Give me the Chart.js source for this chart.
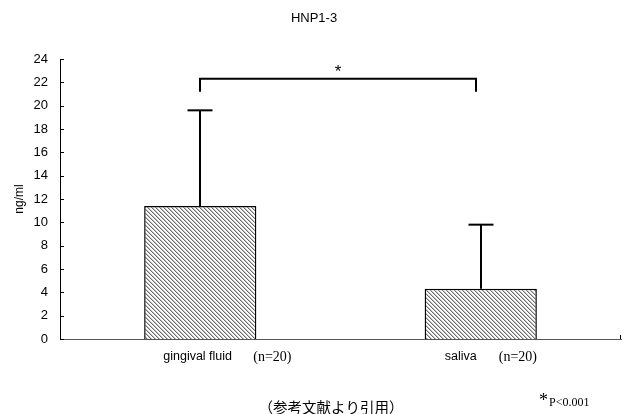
<!DOCTYPE html>
<html><head><meta charset="utf-8">
<script src="https://cdn.jsdelivr.net/npm/chart.js@4/dist/chart.umd.min.js"></script>
<style>html,body{margin:0;padding:0;background:#fff}#wrap{width:629px;height:414px}</style>
</head><body><div id="wrap"><canvas id="c" width="629" height="414"></canvas></div>
<script>
const categories = ['gingival fluid', 'saliva'];
const sampleLabels = ['(n=20)', '(n=20)'];
const means = [11.4, 4.3];
const errorTops = [19.6, 9.8];
const yTicks = [0, 2, 4, 6, 8, 10, 12, 14, 16, 18, 20, 22, 24];
const bracketLevel = 22.3;
const bracketFoot = 21.2;
const titleText = 'HNP1-3';
const yTitle = 'ng/ml';
const sourceNote = '（参考文献より引用）';
const pNote = 'P<0.001';

function hatch() {
  const p = document.createElement('canvas');
  p.width = 4; p.height = 4;
  const g = p.getContext('2d');
  g.fillStyle = '#ffffff'; g.fillRect(0, 0, 4, 4);
  g.fillStyle = '#6a6a6a';
  for (let i = 0; i < 4; i++) { g.fillRect(i, i, 1, 1); }
  g.fillStyle = '#c4c4c4';
  for (let i = 0; i < 4; i++) { g.fillRect((i + 1) % 4, i, 1, 1); }
  return document.getElementById('c').getContext('2d').createPattern(p, 'repeat');
}

const extras = {
  id: 'extras',
  afterDatasetsDraw(chart) {
    const ctx = chart.ctx, x = chart.scales.x, y = chart.scales.y, a = chart.chartArea;
    ctx.save();
    ctx.strokeStyle = '#000'; ctx.lineWidth = 1;
    yTicks.forEach(v => {
      const py = Math.round(y.getPixelForValue(v)) + 0.5;
      ctx.beginPath(); ctx.moveTo(a.left, py); ctx.lineTo(a.left + 4, py); ctx.stroke();
    });
    ctx.beginPath(); ctx.moveTo(a.right - 0.5, a.bottom); ctx.lineTo(a.right - 0.5, a.bottom - 4); ctx.stroke();
    ctx.lineWidth = 2;
    means.forEach((m, i) => {
      const px = Math.round(x.getPixelForValue(i));
      const top = y.getPixelForValue(errorTops[i]);
      const base = y.getPixelForValue(m);
      ctx.beginPath(); ctx.moveTo(px, base); ctx.lineTo(px, top); ctx.stroke();
      ctx.beginPath(); ctx.moveTo(px - 12.5, top); ctx.lineTo(px + 12.5, top); ctx.stroke();
    });
    const x1 = Math.round(x.getPixelForValue(0)), x2 = Math.round(x.getPixelForValue(1)) - 5;
    const by = y.getPixelForValue(bracketLevel), fy = y.getPixelForValue(bracketFoot);
    ctx.beginPath(); ctx.moveTo(x1, fy); ctx.lineTo(x1, by); ctx.lineTo(x2, by); ctx.lineTo(x2, fy); ctx.stroke();
    ctx.fillStyle = '#000';
    ctx.font = '17px "Liberation Sans", Arial, sans-serif';
    ctx.textAlign = 'center'; ctx.textBaseline = 'middle';
    ctx.fillText('*', (x1 + x2) / 2, by - 7);
    ctx.font = '13px "Liberation Sans", Arial, sans-serif';
    ctx.fillText(titleText, 314, 18);
    ctx.save();
    ctx.translate(20, y.getPixelForValue(12));
    ctx.rotate(-Math.PI / 2);
    ctx.font = '12px "Liberation Sans", Arial, sans-serif';
    ctx.fillText(yTitle, 0, 0);
    ctx.restore();
    const nameOffsets = [-37, -36];
    const nOffsets = [53, 18];
    ctx.textAlign = 'left';
    categories.forEach((c, i) => {
      const px = x.getPixelForValue(i);
      ctx.font = '12.5px "Liberation Sans", Arial, sans-serif';
      ctx.fillText(c, px + nameOffsets[i], a.bottom + 18);
      ctx.font = '14px "Liberation Serif", "Times New Roman", serif';
      ctx.fillText(sampleLabels[i], px + nOffsets[i], a.bottom + 18);
    });
    ctx.textAlign = 'center';
    ctx.font = '14.5px "Noto Sans CJK JP", sans-serif';
    ctx.fillText(sourceNote, 331, 407);
    ctx.textAlign = 'left';
    ctx.font = '18px "Liberation Serif", serif';
    ctx.fillText('*', 539, 401);
    ctx.font = '12px "Liberation Serif", "Times New Roman", serif';
    ctx.fillText(pNote, 549, 403);
    ctx.restore();
  }
};

new Chart(document.getElementById('c'), {
  type: 'bar',
  data: {
    labels: categories,
    datasets: [{
      data: means,
      backgroundColor: hatch(),
      borderColor: '#000',
      borderWidth: 1.5,
      barPercentage: 0.4,
      categoryPercentage: 1
    }]
  },
  options: {
    responsive: false,
    animation: false,
    events: [],
    layout: { padding: { top: 59, right: 8, left: 0, bottom: 0 } },
    plugins: { legend: { display: false }, tooltip: { enabled: false } },
    scales: {
      x: {
        grid: { display: false, drawTicks: false },
        border: { display: true, color: '#555', width: 1 },
        ticks: { display: false },
        afterFit: s => { s.height = 75; }
      },
      y: {
        min: 0, max: 24,
        afterBuildTicks: s => { s.ticks = yTicks.map(v => ({ value: v })); },
        grid: { display: false, drawTicks: false },
        border: { display: true, color: '#000', width: 1 },
        ticks: {
          padding: 12,
          color: '#000',
          font: { family: '"Liberation Sans", Arial, sans-serif', size: 13 }
        },
        afterFit: s => { s.width = 60; }
      }
    }
  },
  plugins: [extras]
});
</script>
</body></html>
